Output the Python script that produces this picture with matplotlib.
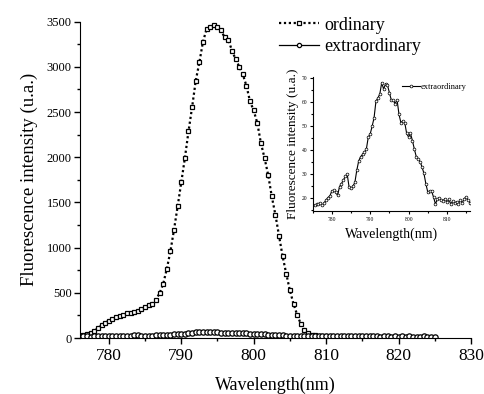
import matplotlib
matplotlib.use("Agg")
import matplotlib.pyplot as plt
from matplotlib.ticker import MultipleLocator

plt.rcParams['font.family'] = ['Liberation Serif', 'DejaVu Serif']
plt.rcParams['mathtext.fontset'] = 'stix'

# ordinary polarisation (main plot)
ord_wl = [775.5, 776.0, 776.5, 777.0, 777.5, 778.0, 778.5, 779.0, 779.5, 780.0,
          780.5, 781.0, 781.5, 782.0, 782.5, 783.0, 783.5, 784.0, 784.5, 785.0,
          785.5, 786.0, 786.5, 787.0, 787.5, 788.0, 788.5, 789.0, 789.5, 790.0,
          790.5, 791.0, 791.5, 792.0, 792.5, 793.0, 793.5, 794.0, 794.5, 795.0,
          795.5, 796.0, 796.5, 797.0, 797.5, 798.0, 798.5, 799.0, 799.5, 800.0,
          800.5, 801.0, 801.5, 802.0, 802.5, 803.0, 803.5, 804.0, 804.5, 805.0,
          805.5, 806.0, 806.5, 807.0, 807.5, 808.0, 808.5, 809.0, 809.5, 810.0]
ord_int = [20, 25, 30, 40, 58, 80, 110, 145, 170, 192,
           210, 228, 243, 257, 272, 281, 290, 300, 318, 340,
           362, 380, 424, 495, 597, 763, 958, 1198, 1456, 1721,
           1991, 2285, 2555, 2846, 3049, 3278, 3418, 3440, 3462, 3440,
           3403, 3325, 3300, 3181, 3086, 3004, 2916, 2791, 2617, 2518,
           2378, 2157, 1991, 1806, 1566, 1364, 1132, 903, 711, 527,
           379, 258, 158, 92, 55, 36, 30, 26, 24, 22]

# extraordinary polarisation
ext_wl = [775.5, 776.0, 776.5, 777.0, 777.5, 778.0, 778.5, 779.0, 779.5, 780.0,
          780.5, 781.0, 781.5, 782.0, 782.5, 783.0, 783.5, 784.0, 784.5, 785.0,
          785.5, 786.0, 786.5, 787.0, 787.5, 788.0, 788.5, 789.0, 789.5, 790.0,
          790.5, 791.0, 791.5, 792.0, 792.5, 793.0, 793.5, 794.0, 794.5, 795.0,
          795.5, 796.0, 796.5, 797.0, 797.5, 798.0, 798.5, 799.0, 799.5, 800.0,
          800.5, 801.0, 801.5, 802.0, 802.5, 803.0, 803.5, 804.0, 804.5, 805.0,
          805.5, 806.0, 806.5, 807.0, 807.5, 808.0, 808.5, 809.0, 809.5, 810.0,
          810.5, 811.0, 811.5, 812.0, 812.5, 813.0, 813.5, 814.0, 814.5, 815.0,
          815.5, 816.0, 816.5, 817.0, 817.5, 818.0, 818.5, 819.0, 819.5, 820.0,
          820.5, 821.0, 821.5, 822.0, 822.5, 823.0, 823.5, 824.0, 824.5, 825.0]
ext_int = [16.9, 17.3, 17.5, 18.0, 16.9, 18.0, 19.2, 20.2, 20.9, 23.0,
           23.2, 22.5, 21.1, 24.8, 26.0, 27.5, 29.0, 30.0, 24.5, 24.0,
           25.0, 26.5, 31.6, 35.5, 37.3, 38.2, 39.2, 40.5, 45.5, 46.8,
           50.0, 53.5, 60.5, 61.8, 63.5, 68.2, 65.5, 67.8, 67.2, 64.0,
           61.0, 60.8, 59.5, 61.0, 55.0, 51.5, 52.2, 51.5, 47.0, 45.5,
           47.0, 44.0, 40.5, 37.3, 36.5, 35.2, 33.0, 30.3, 26.0, 22.5,
           22.9, 22.9, 20.4, 17.5, 19.5, 20.2, 19.0, 18.8, 19.8, 18.2,
           19.5, 17.5, 18.7, 17.8, 18.5, 17.6, 19.2, 17.9, 19.8, 20.3,
           19.0, 18.0, 17.5, 18.0, 17.0, 17.5, 18.0, 17.0, 17.5, 17.0,
           17.5, 17.0, 17.5, 17.0, 17.0, 17.0, 17.5, 17.0, 17.0, 17.0]

fig = plt.figure(figsize=(4.84, 3.94), dpi=100)
ax = fig.add_axes([0.165, 0.142, 0.808, 0.803])

ax.plot(ord_wl, ord_int, linestyle=(0, (1, 1.2)), linewidth=1.6, color='black',
        marker='s', markersize=3.4, markerfacecolor='white', markeredgecolor='black',
        markeredgewidth=0.9, label='ordinary')
ax.plot(ext_wl, ext_int, linestyle='-', linewidth=0.9, color='black',
        marker='o', markersize=3.8, markerfacecolor='white', markeredgecolor='black',
        markeredgewidth=0.9, label='extraordinary')

ax.set_xlim(776, 830)
ax.set_ylim(0, 3500)
ax.xaxis.set_major_locator(MultipleLocator(10))
ax.xaxis.set_minor_locator(MultipleLocator(5))
ax.yaxis.set_major_locator(MultipleLocator(500))
ax.yaxis.set_minor_locator(MultipleLocator(250))
for s in ['top', 'right']:
    ax.spines[s].set_visible(False)
ax.tick_params(axis='x', which='major', direction='out', length=4, width=1, labelsize=12.5, pad=3)
ax.tick_params(axis='y', which='major', direction='out', length=4, width=1, labelsize=9, pad=2)
ax.tick_params(which='minor', direction='out', length=2.5, width=1)
ax.set_xlabel('Wavelength(nm)', fontsize=13, labelpad=9)
ax.set_ylabel('Fluorescence intensity (u.a.)', fontsize=13.5, labelpad=6)

leg = fig.legend(handles=ax.get_lines(), loc='upper left', bbox_to_anchor=(0.576, 0.958),
                 frameon=False, fontsize=13, handlelength=2.2, handletextpad=0.3,
                 labelspacing=0.25, borderpad=0, borderaxespad=0, markerscale=0.8)

# inset
ins = fig.add_axes([0.646, 0.464, 0.325, 0.34])
ins.plot(ext_wl, ext_int, linestyle='-', linewidth=0.8, color='black',
         marker='o', markersize=2.0, markerfacecolor='white', markeredgecolor='black',
         markeredgewidth=0.5, label='extraordinary')
ins.set_xlim(775, 816)
ins.set_ylim(14.5, 70.5)
ins.xaxis.set_major_locator(MultipleLocator(10))
ins.xaxis.set_minor_locator(MultipleLocator(5))
ins.yaxis.set_major_locator(MultipleLocator(10))
ins.yaxis.set_minor_locator(MultipleLocator(5))
for s in ['top', 'right']:
    ins.spines[s].set_visible(False)
ins.patch.set_alpha(0)
ins.tick_params(which='major', direction='out', length=2.5, width=0.8, labelsize=4, pad=1.5)
ins.tick_params(which='minor', direction='out', length=1.5, width=0.8)
ins.set_xlabel('Wavelength(nm)', fontsize=10, labelpad=4)
ins.set_ylabel('Fluorescence intensity (u.a.)', fontsize=9.5, labelpad=2)
ins.legend(loc='upper right', bbox_to_anchor=(1.0, 0.98), frameon=False, fontsize=6,
           handlelength=2.2, handletextpad=0.1, borderaxespad=0)

fig.savefig('out.png', dpi=100)
